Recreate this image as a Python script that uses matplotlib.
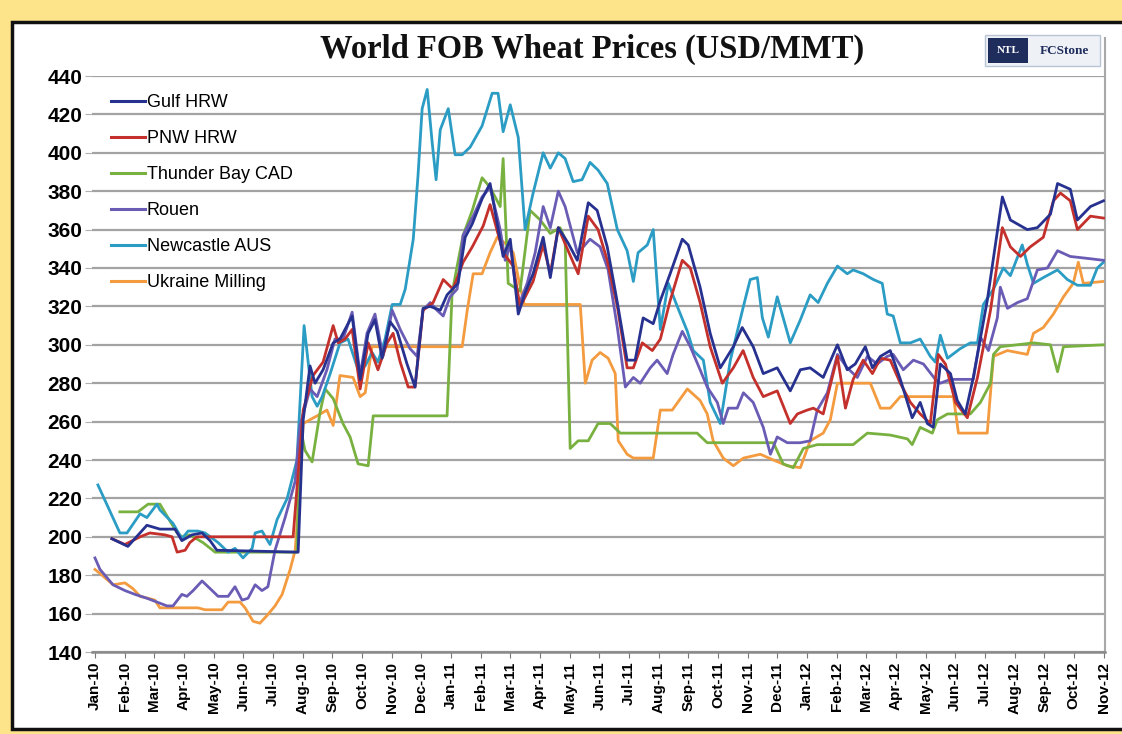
import matplotlib
matplotlib.use("Agg")
import matplotlib.pyplot as plt
from matplotlib.patches import Rectangle
from matplotlib.lines import Line2D

# ---------------- data (time in months since Jan-2010, price USD/MMT) ----------------
month_labels = ["Jan-10", "Feb-10", "Mar-10", "Apr-10", "May-10", "Jun-10", "Jul-10", "Aug-10",
                "Sep-10", "Oct-10", "Nov-10", "Dec-10", "Jan-11", "Feb-11", "Mar-11", "Apr-11",
                "May-11", "Jun-11", "Jul-11", "Aug-11", "Sep-11", "Oct-11", "Nov-11", "Dec-11",
                "Jan-12", "Feb-12", "Mar-12", "Apr-12", "May-12", "Jun-12", "Jul-12", "Aug-12",
                "Sep-12", "Oct-12", "Nov-12"]

gulf_t = [0.57, 1.11, 1.75, 2.19, 2.70, 2.93, 3.27, 3.61, 3.88, 4.11, 6.85, 7.02, 7.25, 7.42, 7.69,
          8.03, 8.26, 8.43, 8.67, 8.94, 9.21, 9.44, 9.68, 9.95, 10.19, 10.52, 10.79, 11.06, 11.30,
          11.64, 11.87, 12.24, 12.48, 12.72, 13.05, 13.32, 13.56, 13.76, 14.00, 14.27, 14.50, 14.77,
          15.11, 15.35, 15.62, 15.95, 16.26, 16.63, 16.93, 17.27, 17.61, 17.94, 18.21, 18.48, 18.82,
          19.06, 19.39, 19.80, 20.00, 20.40, 20.74, 21.08, 21.52, 21.82, 22.19, 22.53, 23.00, 23.44,
          23.78, 24.11, 24.55, 25.03, 25.36, 25.63, 25.97, 26.21, 26.48, 26.81, 27.15, 27.55, 27.82,
          28.06, 28.26, 28.50, 28.84, 29.07, 29.34, 29.61, 30.08, 30.59, 30.86, 31.43, 31.77, 32.21,
          32.45, 32.88, 33.12, 33.56, 34.00]
gulf_v = [199, 195, 206, 204, 204, 198, 201, 202, 198, 193, 192, 261, 289, 280, 287,
          301, 303, 308, 315, 282, 306, 313, 293, 312, 307, 290, 278, 319, 320,
          318, 326, 332, 356, 363, 376, 384, 363, 346, 355, 316, 327, 337,
          356, 335, 361, 353, 344, 374, 370, 351, 322, 292, 292, 314, 311,
          323, 337, 355, 352, 330, 306, 288, 299, 309, 299, 285, 288, 276,
          287, 288, 283, 300, 287, 290, 299, 288, 294, 297, 282, 262, 270,
          259, 257, 290, 285, 271, 264, 283, 323, 377, 365, 360, 361, 368,
          384, 381, 365, 372, 375]

pnw_t = [0.57, 1.01, 1.52, 1.85, 2.36, 2.60, 2.77, 3.04, 3.20, 3.44, 6.68, 7.02, 7.35, 7.69, 8.03,
         8.20, 8.43, 8.67, 8.94, 9.21, 9.54, 9.85, 10.05, 10.29, 10.56, 10.79, 11.06, 11.40, 11.74,
         12.07, 12.41, 12.72, 13.09, 13.32, 13.76, 14.10, 14.33, 14.44, 14.77, 15.11, 15.35, 15.62,
         15.95, 16.29, 16.63, 16.96, 17.27, 17.61, 17.94, 18.15, 18.45, 18.79, 19.06, 19.39, 19.80,
         20.07, 20.40, 20.74, 21.15, 21.52, 21.85, 22.19, 22.53, 23.00, 23.44, 23.68, 24.01, 24.22,
         24.55, 25.03, 25.30, 25.56, 25.90, 26.21, 26.48, 26.81, 27.15, 27.49, 27.82, 28.16, 28.43,
         28.67, 29.01, 29.41, 29.75, 30.19, 30.59, 30.86, 31.20, 31.53, 31.97, 32.31, 32.55, 32.88,
         33.12, 33.56, 34.00]
pnw_v = [199, 196, 200, 202, 201, 200, 192, 193, 197, 200, 200, 266, 284, 291, 310,
         301, 303, 308, 277, 301, 287, 301, 306, 291, 278, 278, 318, 322, 334,
         329, 343, 351, 362, 373, 348, 341, 320, 323, 333, 352, 337, 361,
         349, 337, 367, 360, 344, 320, 288, 288, 301, 297, 303, 323, 344,
         340, 322, 299, 280, 288, 297, 283, 273, 276, 259, 264, 266, 267,
         264, 294, 267, 282, 292, 285, 293, 292, 280, 270, 264, 259, 295,
         290, 270, 262, 283, 318, 361, 351, 346, 351, 356, 375, 379, 375,
         360, 367, 366]

thunder_t = [0.84, 1.45, 1.79, 2.19, 2.46, 2.77, 2.93, 3.20, 3.64, 4.05, 6.81, 6.91, 7.08, 7.32,
             7.59, 7.76, 8.03, 8.36, 8.60, 8.87, 9.21, 9.38, 11.87, 12.04, 12.21, 12.41, 12.72,
             13.05, 13.32, 13.66, 13.76, 13.93, 14.33, 14.67, 15.01, 15.35, 15.68, 15.85, 16.02,
             16.29, 16.63, 16.96, 17.37, 17.71, 20.30, 20.64, 22.87, 23.20, 23.54, 23.88, 24.35,
             25.56, 26.04, 26.81, 27.39, 27.55, 27.82, 28.23, 28.40, 28.74, 29.51, 29.85, 30.19,
             30.29, 30.52, 31.64, 32.21, 32.45, 32.65, 34.00]
thunder_v = [213, 213, 217, 217, 210, 202, 200, 201, 197, 192, 192, 258, 245, 239,
             265, 277, 272, 259, 252, 238, 237, 263, 263, 327, 341, 357, 370,
             387, 382, 372, 397, 332, 328, 370, 365, 358, 361, 355, 246,
             250, 250, 259, 259, 254, 254, 249, 249, 238, 236, 246, 248,
             248, 254, 253, 251, 248, 257, 254, 261, 264, 264, 270, 280,
             295, 299, 301, 300, 286, 299, 300]

rouen_t = [0.00, 0.17, 0.61, 1.01, 1.35, 1.75, 2.09, 2.43, 2.63, 2.93, 3.10, 3.31, 3.61, 3.95, 4.15,
           4.49, 4.72, 4.96, 5.16, 5.40, 5.63, 5.83, 6.07, 6.41, 6.75, 6.91, 7.25, 7.49, 7.82, 8.09,
           8.36, 8.67, 8.94, 9.17, 9.44, 9.71, 10.02, 10.29, 10.62, 10.86, 11.06, 11.30, 11.53,
           11.74, 11.97, 12.21, 12.41, 12.75, 13.05, 13.32, 13.66, 13.83, 14.00, 14.27, 14.57,
           14.84, 15.11, 15.35, 15.62, 15.85, 16.26, 16.46, 16.69, 17.03, 17.30, 17.61, 17.88,
           18.15, 18.38, 18.72, 18.95, 19.29, 19.49, 19.80, 20.07, 20.40, 20.64, 20.98, 21.18,
           21.35, 21.65, 21.86, 22.19, 22.53, 22.77, 23.00, 23.34, 23.78, 24.11, 24.35, 24.69,
           25.03, 25.36, 25.70, 26.04, 26.37, 26.71, 26.91, 27.25, 27.59, 27.93, 28.33, 28.50,
           28.84, 29.61, 29.85, 30.12, 30.42, 30.52, 30.76, 31.10, 31.43, 31.77, 32.11, 32.45,
           32.88, 33.46, 34.00]
rouen_v = [189, 183, 175, 172, 170, 168, 166, 164, 164, 170, 169, 172, 177, 172, 169,
           169, 174, 167, 168, 175, 172, 174, 193, 210, 229, 258, 277, 273, 287, 303,
           303, 317, 284, 306, 316, 294, 318, 308, 298, 294, 318, 322, 318,
           315, 325, 329, 357, 367, 377, 382, 360, 344, 352, 320, 332,
           348, 372, 361, 380, 372, 348, 351, 355, 351, 339, 309, 278,
           283, 280, 288, 292, 285, 295, 307, 299, 287, 278, 270, 259,
           267, 267, 275, 270, 257, 243, 252, 249, 249, 250, 266, 275,
           295, 288, 283, 294, 290, 294, 295, 287, 292, 290, 282, 280,
           282, 282, 304, 297, 314, 330, 319, 322, 324, 339, 340, 349,
           346, 345, 344]

newcastle_t = [0.10, 0.84, 1.08, 1.52, 1.75, 2.09, 2.19, 2.63, 2.93, 3.14, 3.47, 3.71, 4.15, 4.49,
               4.72, 4.99, 5.30, 5.40, 5.63, 5.90, 6.14, 6.48, 6.81, 7.05, 7.18, 7.32, 7.49, 7.66,
               7.93, 8.26, 8.53, 8.87, 9.11, 9.34, 9.54, 9.78, 10.02, 10.29, 10.46, 10.73, 10.89,
               11.03, 11.20, 11.37, 11.50, 11.64, 11.91, 12.14, 12.38, 12.65, 13.05, 13.39, 13.59,
               13.76, 14.00, 14.27, 14.50, 14.77, 15.11, 15.35, 15.62, 15.85, 16.12, 16.42, 16.69,
               16.96, 17.27, 17.61, 17.94, 18.15, 18.31, 18.62, 18.82, 19.06, 19.33, 19.63, 19.97,
               20.17, 20.51, 20.74, 21.08, 21.42, 21.86, 22.09, 22.33, 22.50, 22.70, 23.00, 23.44,
               23.78, 24.11, 24.38, 24.69, 25.03, 25.36, 25.56, 25.90, 26.24, 26.54, 26.71, 26.91,
               27.15, 27.49, 27.82, 28.16, 28.33, 28.50, 28.74, 29.17, 29.51, 29.75, 29.95, 30.29,
               30.62, 30.86, 31.26, 31.43, 31.64, 31.97, 32.45, 32.78, 33.12, 33.56, 33.79, 34.00]
newcastle_v = [227, 202, 202, 212, 210, 217, 214, 207, 199, 203, 203, 202, 197, 192,
               194, 189, 194, 202, 203, 196, 209, 220, 240, 310, 292, 273, 268, 273,
               285, 301, 303, 287, 289, 296, 291, 303, 321, 321, 329, 355, 388,
               423, 433, 405, 386, 412, 423, 399, 399, 403, 414, 431, 431,
               411, 425, 408, 360, 379, 400, 392, 400, 397, 385, 386, 395,
               391, 384, 360, 349, 333, 348, 352, 360, 308, 332, 320, 307,
               297, 292, 270, 259, 292, 320, 334, 335, 314, 304, 325, 301,
               313, 326, 322, 332, 341, 337, 339, 337, 334, 332, 316, 315,
               301, 301, 303, 294, 291, 305, 293, 298, 301, 301, 321, 329,
               340, 336, 352, 342, 332, 335, 339, 334, 331, 331, 340, 343]

ukraine_t = [0.00, 0.24, 0.61, 1.01, 1.28, 1.52, 1.79, 2.02, 2.19, 3.47, 3.71, 4.28, 4.49, 4.89,
             5.06, 5.33, 5.56, 5.80, 6.07, 6.31, 6.58, 6.75, 6.91, 7.02, 7.25, 7.49, 7.82, 8.03,
             8.26, 8.70, 8.94, 9.11, 9.34, 12.38, 12.55, 12.75, 13.05, 13.32, 13.56, 13.90, 14.10,
             14.27, 14.47, 16.36, 16.53, 16.76, 17.03, 17.30, 17.54, 17.64, 17.94, 18.15, 18.82,
             19.06, 19.46, 19.97, 20.40, 20.64, 20.84, 21.18, 21.52, 21.86, 22.43, 22.87, 23.34,
             23.78, 24.11, 24.55, 24.79, 25.03, 26.14, 26.48, 26.81, 27.15, 28.94, 29.11, 30.08,
             30.29, 30.76, 31.43, 31.64, 31.97, 32.31, 32.65, 32.98, 33.15, 33.32, 34.00]
ukraine_v = [183, 180, 175, 176, 173, 169, 168, 167, 163, 163, 162, 162, 166, 166,
             163, 156, 155, 159, 164, 170, 183, 193, 228, 259, 261, 263, 266, 258,
             284, 283, 273, 275, 299, 299, 318, 337, 337, 348, 356, 352, 348,
             335, 321, 321, 280, 292, 296, 293, 285, 250, 243, 241, 241,
             266, 266, 277, 271, 264, 250, 241, 237, 241, 243, 240, 237,
             236, 250, 254, 261, 280, 280, 267, 267, 273, 273, 254, 254,
             294, 297, 295, 306, 309, 316, 325, 332, 343, 332, 333]

series_names = ["Gulf HRW", "PNW HRW", "Thunder Bay CAD", "Rouen", "Newcastle AUS", "Ukraine Milling"]
series_colors = ["#27318f", "#c4302b", "#79b140", "#6a5cb5", "#2b9cc4", "#f39b3e"]
series_t = [gulf_t, pnw_t, thunder_t, rouen_t, newcastle_t, ukraine_t]
series_v = [gulf_v, pnw_v, thunder_v, rouen_v, newcastle_v, ukraine_v]
series_z = [8, 7, 3, 5, 4, 2]

y_ticks = list(range(140, 441, 20))

# ---------------- figure ----------------
W, H = 1122, 734
fig = plt.figure(figsize=(W / 100, H / 100), dpi=100)
fig.patch.set_facecolor("#fde389")

# white panel with black frame (drawn behind everything)
panel = Rectangle((12 / W, 1 - 729 / H), 1.2, (729 - 22) / H,
                  transform=fig.transFigure, facecolor="white",
                  edgecolor="#111111", linewidth=2.5, zorder=-5)
fig.add_artist(panel)

ax = fig.add_axes([92 / W, 1 - 652 / H, (1105 - 92) / W, (652 - 76) / H])
ax.set_zorder(1)
ax.patch.set_alpha(0.0)

for name, col, t, v, z in zip(series_names, series_colors, series_t, series_v, series_z):
    ax.plot(t, v, color=col, lw=2.0, label=name, zorder=z, solid_joinstyle="round")

ax.set_xlim(-0.1, 34.05)
ax.set_ylim(140, 440)
ax.set_yticks(y_ticks)
ax.set_yticklabels([str(y) for y in y_ticks], fontsize=15, fontweight="bold",
                   family="Liberation Sans")
ax.set_xticks(range(len(month_labels)))
ax.set_xticklabels(month_labels, rotation=90, fontsize=11, fontweight="bold",
                   family="Liberation Sans")
ax.grid(axis="y", color="#a3a3a3", lw=1.6, zorder=0)
ax.set_axisbelow(True)
ax.tick_params(axis="y", length=5, color="#b0b0b0", pad=2)
ax.tick_params(axis="x", length=4, color="#777777", pad=3)
for s in ["top", "left"]:
    ax.spines[s].set_visible(False)
ax.spines["bottom"].set_color("#8a8a8a")
ax.spines["bottom"].set_linewidth(1.8)
ax.spines["right"].set_color("#a8a8a8")
ax.spines["right"].set_linewidth(1.5)
fig.add_artist(Line2D([1105 / W, 1105 / W], [1 - 76 / H, 1 - 38 / H], color="#a8a8a8",
                      lw=1.5, transform=fig.transFigure))

leg = ax.legend(loc="upper left", bbox_to_anchor=(0.006, 0.99), frameon=False,
                prop={"family": "Liberation Sans", "size": 13}, handlelength=1.9,
                handletextpad=0.1, labelspacing=1.05, borderaxespad=0.3)
for h in leg.get_lines():
    h.set_linewidth(2.2)

# title
fig.text(592 / W, 1 - 49 / H, "World FOB Wheat Prices (USD/MMT)", ha="center", va="center",
         fontsize=23.5, fontweight="bold", family="Liberation Serif", color="#111111")

# logo
fig.add_artist(Rectangle((985 / W, 1 - 66 / H), 115 / W, 31 / H, transform=fig.transFigure,
                         facecolor="#eef2f7", edgecolor="#b8c4d4", lw=1, zorder=2))
fig.add_artist(Rectangle((988 / W, 1 - 63 / H), 40 / W, 25 / H, transform=fig.transFigure,
                         facecolor="#1f2d5c", edgecolor="none", zorder=3))
fig.text(1008 / W, 1 - 50.5 / H, "NTL", ha="center", va="center", fontsize=8, color="white",
         fontweight="bold", family="Liberation Serif", zorder=4)
fig.text(1064 / W, 1 - 50.5 / H, "FCStone", ha="center", va="center", fontsize=9.5,
         color="#1f2d5c", fontweight="bold", family="Liberation Serif", zorder=4)

fig.savefig("out.png", dpi=100, facecolor=fig.get_facecolor())
